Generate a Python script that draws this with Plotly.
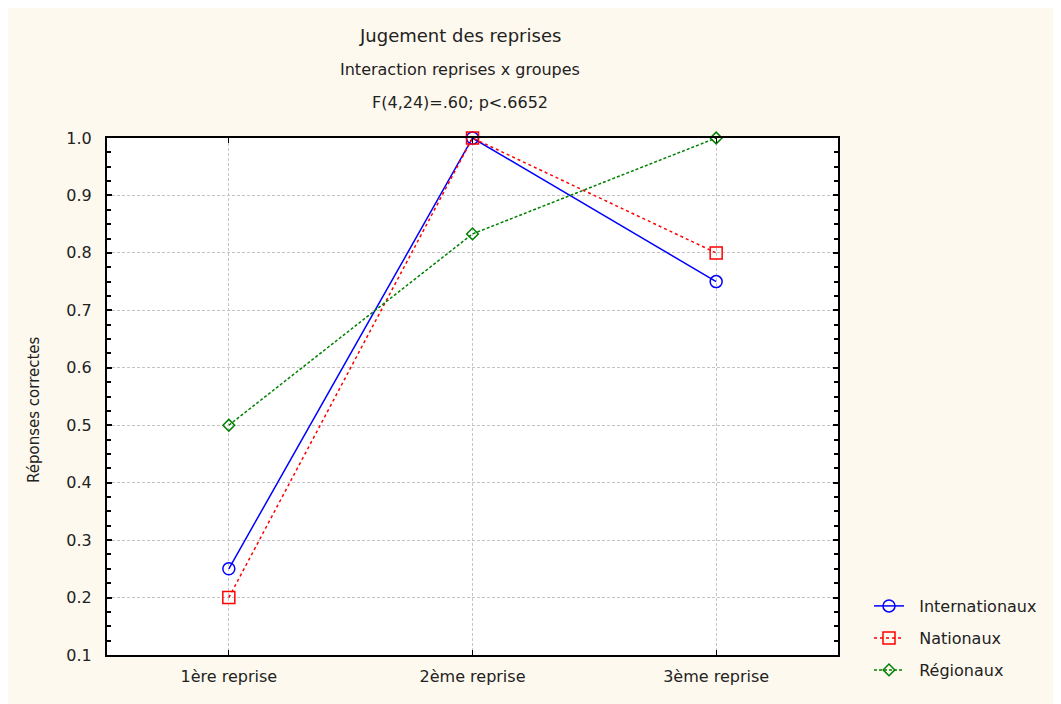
import plotly.graph_objects as go

categories = ["1ère reprise", "2ème reprise", "3ème reprise"]
internationaux = [0.25, 1.0, 0.75]
nationaux = [0.2, 1.0, 0.8]
regionaux = [0.5, 0.833, 1.0]
y_ticks = [0.1, 0.2, 0.3, 0.4, 0.5, 0.6, 0.7, 0.8, 0.9, 1.0]

W, H = 1061, 704
OFF = 8  # page body margin
SL, SR, ST, SB = 107, 838, 138, 655  # plot area in screen pixels
FONT = "DejaVu Sans, Verdana, sans-serif"
TXT = "#222222"
NB = "\u00a0"


def px(sx):
    return (sx - SL) / (SR - SL)


def py(sy):
    return (SB - sy) / (SB - ST)


fig = go.Figure()
series = [
    ("Internationaux", internationaux, "#0000FF", "solid", "circle-open", 12, 606),
    ("Nationaux", nationaux, "#FF0000", "dot", "square-open", 12, 638),
    ("Régionaux", regionaux, "#008000", "3px,2px", "diamond-open", 9, 670),
]
for i, (name, vals, col, dash, sym, size, ly) in enumerate(series):
    lg = "legend" if i == 0 else f"legend{i + 1}"
    fig.add_trace(go.Scatter(
        x=categories, y=vals, name=NB * 2 + name, mode="lines+markers", legend=lg,
        line=dict(color=col, width=1.5, dash=dash),
        marker=dict(symbol=sym, size=size, color=col, line=dict(width=1.5, color=col)),
        cliponaxis=False))
    fig.update_layout({lg: dict(x=px(869), y=py(ly), xanchor="left", yanchor="middle",
                                bgcolor="rgba(0,0,0,0)", font=dict(family=FONT, size=16, color=TXT),
                                itemwidth=30)})

titles = [("Jugement des reprises", 35, 18), ("Interaction reprises x groupes", 70, 16),
          ("F(4,24)=.60; p<.6652", 102, 16)]
for txt, ypix, fs in titles:
    fig.add_annotation(text=txt, xref="paper", yref="paper",
                       x=px(460), y=py(ypix), xanchor="center", yanchor="middle", showarrow=False,
                       font=dict(family=FONT, size=fs, color=TXT))

fig.add_annotation(text="Réponses correctes", xref="paper", yref="paper",
                   x=px(34), y=py(410), xanchor="center", yanchor="middle", showarrow=False,
                   textangle=-90, font=dict(family=FONT, size=15, color=TXT))

fig.update_layout(
    width=W, height=H,
    margin=dict(l=SL - OFF, r=W - (SR - OFF), t=ST - OFF, b=H - (SB - OFF), pad=0),
    paper_bgcolor="#FEF9EE", plot_bgcolor="#FFFFFF",
    font=dict(family=FONT, size=16, color=TXT),
    showlegend=True,
)
fig.update_xaxes(
    type="category", range=[-0.5, 2.5],
    showline=True, linecolor="#000000", linewidth=2, mirror="allticks",
    ticks="inside", ticklen=5, tickcolor="#000000", tickwidth=1,
    showgrid=True, gridcolor="#C4C4C4", griddash="3px,2px", gridwidth=1,
    tickfont=dict(size=16, color=TXT), ticklabelstandoff=6, zeroline=False)
fig.update_yaxes(
    range=[0.1, 1.0], tickvals=y_ticks, ticktext=[f"{v:.1f}" for v in y_ticks],
    showline=True, linecolor="#000000", linewidth=2, mirror="allticks",
    ticks="inside", ticklen=5, tickcolor="#000000", tickwidth=2,
    showgrid=True, gridcolor="#C4C4C4", griddash="3px,2px", gridwidth=1,
    minor=dict(dtick=0.025, tick0=0.1, ticks="inside", ticklen=4, tickcolor="#000000", showgrid=False),
    tickfont=dict(size=16, color=TXT), ticklabelstandoff=10, zeroline=False)

fig.write_html("out.html")
